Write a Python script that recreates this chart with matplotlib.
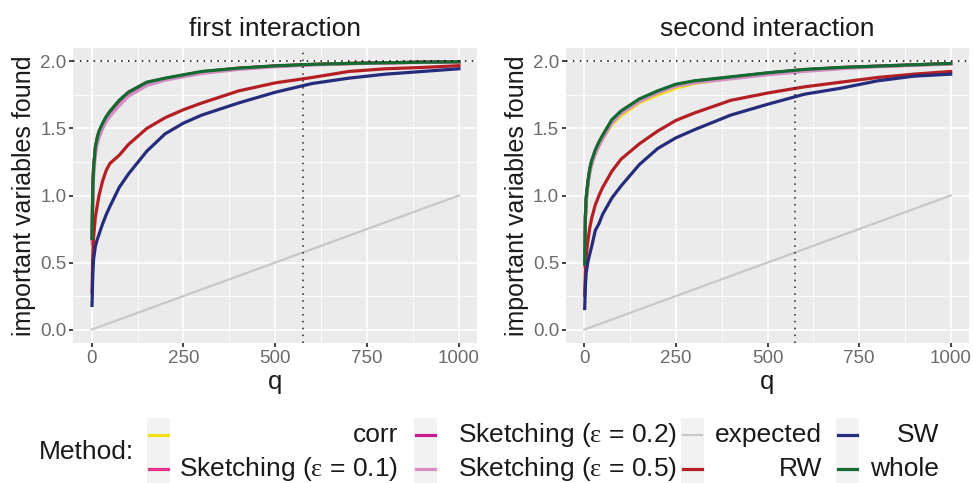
import numpy as np
import matplotlib.pyplot as plt
from matplotlib.lines import Line2D
from matplotlib.patches import Rectangle

plt.rcParams['font.family'] = ['Liberation Sans', 'DejaVu Sans']
plt.rcParams['mathtext.fontset'] = 'custom'
plt.rcParams['mathtext.rm'] = 'Liberation Serif'
plt.rcParams['mathtext.it'] = 'Liberation Serif'

q = [1, 3, 5, 10, 15, 20, 30, 40, 50, 75, 100, 150, 200, 250, 300, 400, 500, 600, 700, 800, 900, 1000]

methods = ['corr', 'Sketching (eps = 0.1)', 'Sketching (eps = 0.2)', 'Sketching (eps = 0.5)',
           'expected', 'RW', 'SW', 'whole']
colors = ['#EFE116', '#E8338D', '#C91C8C', '#D48DC5', '#C8C8C8', '#B41F24', '#262C7C', '#136B30']

# first interaction
first_corr = [0.68, 1.04, 1.19, 1.35, 1.42, 1.47, 1.53, 1.58, 1.615, 1.70, 1.765, 1.84, 1.87, 1.895, 1.92, 1.948, 1.965, 1.977, 1.985, 1.99, 1.994, 1.997]
first_sk01 = [0.67, 1.03, 1.18, 1.35, 1.42, 1.47, 1.53, 1.58, 1.62, 1.70, 1.765, 1.84, 1.87, 1.895, 1.92, 1.948, 1.965, 1.977, 1.984, 1.99, 1.994, 1.997]
first_sk02 = [0.68, 1.04, 1.19, 1.355, 1.425, 1.475, 1.535, 1.585, 1.625, 1.705, 1.77, 1.842, 1.872, 1.898, 1.922, 1.949, 1.966, 1.977, 1.985, 1.99, 1.994, 1.997]
first_sk05 = [0.64, 0.98, 1.13, 1.30, 1.38, 1.43, 1.50, 1.55, 1.59, 1.67, 1.74, 1.82, 1.86, 1.885, 1.91, 1.94, 1.96, 1.973, 1.982, 1.988, 1.992, 1.996]
first_rw = [0.28, 0.55, 0.68, 0.84, 0.92, 1.00, 1.11, 1.19, 1.24, 1.30, 1.38, 1.50, 1.58, 1.64, 1.69, 1.78, 1.84, 1.88, 1.925, 1.945, 1.955, 1.968]
first_sw = [0.18, 0.40, 0.52, 0.62, 0.67, 0.71, 0.79, 0.86, 0.92, 1.06, 1.16, 1.33, 1.46, 1.54, 1.60, 1.69, 1.77, 1.835, 1.875, 1.905, 1.925, 1.945]
first_whole = [0.68, 1.05, 1.20, 1.36, 1.43, 1.48, 1.54, 1.59, 1.63, 1.71, 1.77, 1.845, 1.875, 1.90, 1.925, 1.95, 1.967, 1.978, 1.985, 1.99, 1.994, 1.997]

# second interaction
second_corr = [0.48, 0.83, 0.96, 1.09, 1.17, 1.23, 1.31, 1.37, 1.42, 1.53, 1.595, 1.69, 1.75, 1.80, 1.835, 1.875, 1.908, 1.935, 1.952, 1.963, 1.973, 1.983]
second_sk01 = [0.49, 0.84, 0.97, 1.10, 1.19, 1.25, 1.33, 1.39, 1.44, 1.555, 1.62, 1.71, 1.77, 1.82, 1.85, 1.88, 1.912, 1.937, 1.953, 1.964, 1.974, 1.984]
second_sk02 = [0.49, 0.845, 0.975, 1.105, 1.195, 1.255, 1.335, 1.395, 1.445, 1.56, 1.625, 1.715, 1.775, 1.825, 1.852, 1.882, 1.913, 1.938, 1.954, 1.964, 1.974, 1.984]
second_sk05 = [0.47, 0.82, 0.95, 1.08, 1.17, 1.23, 1.31, 1.37, 1.42, 1.54, 1.61, 1.70, 1.765, 1.815, 1.84, 1.87, 1.90, 1.925, 1.945, 1.96, 1.97, 1.98]
second_rw = [0.256, 0.45, 0.55, 0.67, 0.76, 0.83, 0.93, 1.00, 1.06, 1.18, 1.27, 1.385, 1.48, 1.56, 1.615, 1.71, 1.764, 1.81, 1.845, 1.88, 1.905, 1.925]
second_sw = [0.157, 0.33, 0.42, 0.51, 0.565, 0.62, 0.74, 0.79, 0.86, 0.98, 1.07, 1.23, 1.35, 1.43, 1.49, 1.60, 1.68, 1.755, 1.80, 1.855, 1.89, 1.905]
second_whole = [0.49, 0.85, 0.98, 1.11, 1.20, 1.26, 1.34, 1.40, 1.45, 1.565, 1.63, 1.72, 1.78, 1.83, 1.855, 1.885, 1.915, 1.94, 1.955, 1.965, 1.975, 1.985]

expected_q = [0, 1000]
expected_val = [0, 1]

q_cut = 575
panel_titles = ['first interaction', 'second interaction']
panel_data = [
    [first_corr, first_sk01, first_sk02, first_sk05, None, first_rw, first_sw, first_whole],
    [second_corr, second_sk01, second_sk02, second_sk05, None, second_rw, second_sw, second_whole],
]

W, H = 973, 483
fig = plt.figure(figsize=(W / 100, H / 100), dpi=100)

def px(x, y):
    return x / W, 1 - y / H

axes_boxes = [(73.3, 48, 404, 295), (566, 48, 403, 295)]
tick_grey = '#6B6B6B'

for box, title, series in zip(axes_boxes, panel_titles, panel_data):
    x0, y0, w, h = box
    ax = fig.add_axes([x0 / W, 1 - (y0 + h) / H, w / W, h / H])
    ax.set_facecolor('#EBEBEB')
    for s in ax.spines.values():
        s.set_visible(False)
    ax.set_xlim(-50, 1050)
    ax.set_ylim(-0.1, 2.1)
    ax.set_xticks([0, 250, 500, 750, 1000])
    ax.set_yticks([0, 0.5, 1.0, 1.5, 2.0])
    ax.set_yticklabels(['0.0', '0.5', '1.0', '1.5', '2.0'])
    ax.set_xticks([125, 375, 625, 875], minor=True)
    ax.set_yticks([0.25, 0.75, 1.25, 1.75], minor=True)
    ax.grid(which='major', color='white', lw=1.2)
    ax.grid(which='minor', color='white', lw=0.6)
    ax.set_axisbelow(True)
    ax.tick_params(which='major', length=3, width=1.3, color='#333333',
                   labelsize=13.5, labelcolor=tick_grey, pad=2)
    ax.tick_params(which='minor', length=0)

    for name, col, vals in zip(methods, colors, series):
        if name == 'expected':
            ax.plot(expected_q, expected_val, color=col, lw=1.6)
        else:
            ax.plot(q, vals, color=col, lw=2.3, solid_joinstyle='round')

    ax.axhline(2.0, color='black', lw=1.1, ls=(0, (1, 3.5)))
    ax.axvline(q_cut, color='#222222', lw=1.1, ls=(0, (1, 3.5)))

    ax.set_title(title, fontsize=19, color='#1A1A1A', pad=9)
    ax.set_xlabel('q', fontsize=18.5, color='#1A1A1A', labelpad=2)
    ax.set_ylabel('important variables found', fontsize=18, color='#1A1A1A', labelpad=3)

# legend drawn at the bottom, ggplot style
fig.text(*px(39, 452), 'Method:', fontsize=19, color='#1A1A1A', ha='left', va='center')

labels = ['corr', r'Sketching ($\mathrm{\varepsilon}$ = 0.1)', r'Sketching ($\mathrm{\varepsilon}$ = 0.2)',
          r'Sketching ($\mathrm{\varepsilon}$ = 0.5)', 'expected', 'RW', 'SW', 'whole']
key_left = [147, 414, 681, 836]
text_right = [398, 677, 822, 939]
row_y = [435, 469]
for c in range(4):
    kx = key_left[c]
    fig.add_artist(Rectangle(px(kx, 486), 23 / W, 68 / H, transform=fig.transFigure,
                             facecolor='#F2F2F2', edgecolor='none'))
    for r in range(2):
        i = c * 2 + r
        yy = row_y[r]
        lw = 1.6 if methods[i] == 'expected' else 2.3
        fig.add_artist(Line2D([(kx + 2) / W, (kx + 21) / W], [1 - yy / H] * 2,
                              transform=fig.transFigure, color=colors[i], lw=lw))
        fig.text(*px(text_right[c], yy), labels[i], fontsize=19, color='#1A1A1A',
                 ha='right', va='center')

fig.savefig('out.png', dpi=100)
